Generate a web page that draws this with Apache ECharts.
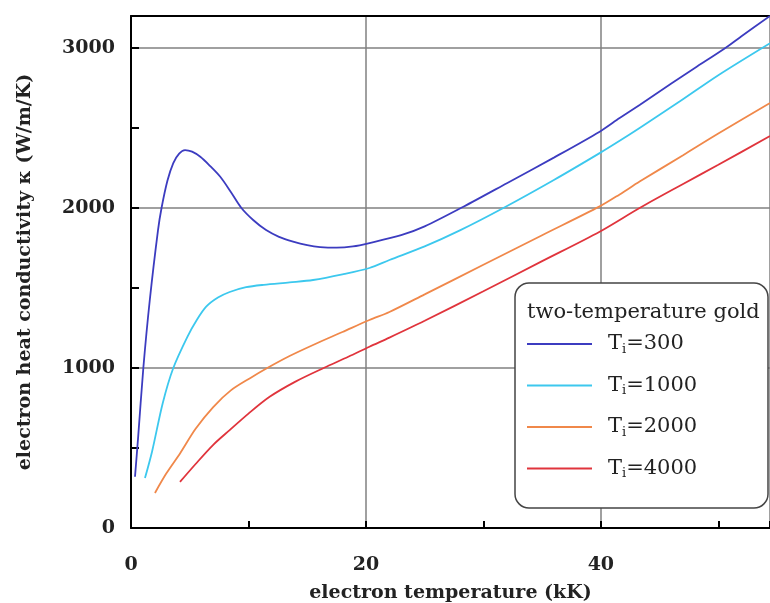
<!DOCTYPE html>
<html>
<head>
<meta charset="utf-8">
<script src="https://cdn.jsdelivr.net/npm/echarts@6/dist/echarts.min.js"></script>
<style>html,body{margin:0;padding:0;background:#fff}#c{width:770px;height:603px}</style>
</head>
<body>
<div id="c"></div>
<script>
// electron temperature (kK) and conductivity (W/m/K) for each ion temperature
const t300 = [0.34,0.6,1.05,1.6,2.3,2.6,3.1,3.6,4.1,4.6,5.2,5.9,6.7,7.6,8.5,9.4,10.4,11.5,12.6,13.8,15,16.1,17.5,18.9,20.3,23,25,28.3,32,36,39.9,41.6,43.3,46,48,50.6,52,54.4];
const k300 = [320,560,1000,1425,1862,2000,2170,2281,2340,2362,2352,2320,2265,2195,2100,2000,1925,1862,1820,1790,1768,1756,1752,1760,1781,1830,1885,2008,2155,2315,2477,2562,2644,2778,2875,3000,3075,3200];
const t1000 = [1.19,1.8,2.7,3.6,4.8,5.6,6.4,7.4,8.4,9.8,11.3,13.5,15.5,18,20.3,22,25,28,31.7,36,39.9,41.6,43.3,46.7,50,54.4];
const k1000 = [312,480,780,1000,1195,1300,1383,1440,1475,1505,1520,1535,1550,1585,1625,1675,1760,1860,2000,2175,2343,2420,2500,2665,2830,3030];
const t2000 = [2.04,3,4.2,5.5,7,8.5,10.1,11.6,13.5,15.5,18,20.3,22,25,30,35,39.9,41.6,43.3,47,50,54.4];
const k2000 = [219,340,469,620,756,860,935,1000,1075,1144,1225,1300,1350,1460,1645,1830,2010,2085,2165,2330,2465,2656];
const t4000 = [4.17,5.5,7,8.4,10,11.8,14,16.4,18.5,20.3,22,25,30,35,39.9,43.3,47,50,54.4];
const k4000 = [288,400,520,612,715,820,915,1000,1070,1133,1190,1295,1480,1668,1852,2000,2150,2270,2450];

const seriesNames = ['Ti=300','Ti=1000','Ti=2000','Ti=4000'];
const seriesColors = ['#3c3cc0','#3cc8ee','#f0884a','#e0343c'];
const xTicks = [0,20,40];
const yTicks = [0,1000,2000,3000];
const legendTitle = 'two-temperature gold';

const pairs = (t,k) => t.map((v,i)=>[v,k[i]]);
const allData = [pairs(t300,k300),pairs(t1000,k1000),pairs(t2000,k2000),pairs(t4000,k4000)];

const FONT = 'DejaVu Serif';
const lblStyle = {fontFamily: FONT, fontWeight: 'bold', fontSize: 19, color: '#222'};

const chart = echarts.init(document.getElementById('c'), null, {renderer:'canvas'});
chart.setOption({
  animation: false,
  backgroundColor: '#fff',
  grid: {left: 131, right: 0, top: 16, bottom: 75, containLabel: false, outerBoundsMode: 'none'},
  xAxis: [
    {type:'value', min:0, max:54.4, interval:20, position:'bottom',
     axisLine:{show:true, lineStyle:{color:'#000', width:2}},
     axisTick:{show:false},
     splitLine:{show:true, lineStyle:{color:'#808080', width:1.5}},
     axisLabel:Object.assign({margin:28, showMaxLabel:false, formatter: v => xTicks.includes(v) ? String(v) : ''}, lblStyle),
     name:'electron temperature (kK)', nameLocation:'middle', nameGap:56,
     nameTextStyle: lblStyle},
    {type:'value', min:0, max:54.4, interval:10, position:'bottom',
     axisLine:{show:false}, splitLine:{show:false}, axisLabel:{show:false},
     axisTick:{show:true, inside:true, length:7, lineStyle:{color:'#000', width:2}}},
    {type:'value', min:0, max:54.4, interval:20, position:'top',
     axisLine:{show:true, lineStyle:{color:'#000', width:2}},
     axisTick:{show:false}, splitLine:{show:false}, axisLabel:{show:false}}
  ],
  yAxis: [
    {type:'value', min:0, max:3200, interval:1000,
     axisLine:{show:true, lineStyle:{color:'#000', width:2}},
     axisTick:{show:false},
     splitLine:{show:true, lineStyle:{color:'#808080', width:1.5}},
     axisLabel:Object.assign({margin:16, showMaxLabel:false, formatter: v => yTicks.includes(v) ? String(v) : ''}, lblStyle),
     name:'electron heat conductivity κ (W/m/K)', nameLocation:'middle', nameGap:96,
     nameTextStyle: lblStyle},
    {type:'value', min:0, max:3200, interval:500, position:'left',
     axisLine:{show:false}, splitLine:{show:false}, axisLabel:{show:false},
     axisTick:{show:true, inside:true, length:8, lineStyle:{color:'#000', width:2}}}
  ],
  legend: {
    orient:'vertical', left:527, top:333, padding:0, z:200,
    data: seriesNames, icon:'rect', itemWidth:65, itemHeight:2, itemGap:18.5,
    formatter: n => '{t|T}{s|i}{t|=' + n.split('=')[1] + '}',
    textStyle: {padding:[0,0,0,11], rich:{
      t:{fontFamily:FONT, fontSize:21, color:'#222', lineHeight:24},
      s:{fontFamily:FONT, fontSize:13, color:'#222', lineHeight:24, verticalAlign:'bottom', padding:[10,0,0,0]}
    }}
  },
  graphic: [
    {type:'rect', z:100, shape:{x:515, y:283, width:253, height:225, r:14},
     style:{fill:'#fff', stroke:'#444', lineWidth:1.5}},
    {type:'text', z:101, x:527, y:313,
     style:{text:legendTitle, font:'21px "DejaVu Serif"', fill:'#222', verticalAlign:'middle', align:'left'}}
  ],
  series: seriesNames.map((n,i)=>({
    name:n, type:'line', xAxisIndex:0, yAxisIndex:0, data:allData[i],
    showSymbol:false, symbol:'none', smooth:0.3,
    lineStyle:{color:seriesColors[i], width:1.8}, itemStyle:{color:seriesColors[i]}
  }))
});
</script>
</body>
</html>
